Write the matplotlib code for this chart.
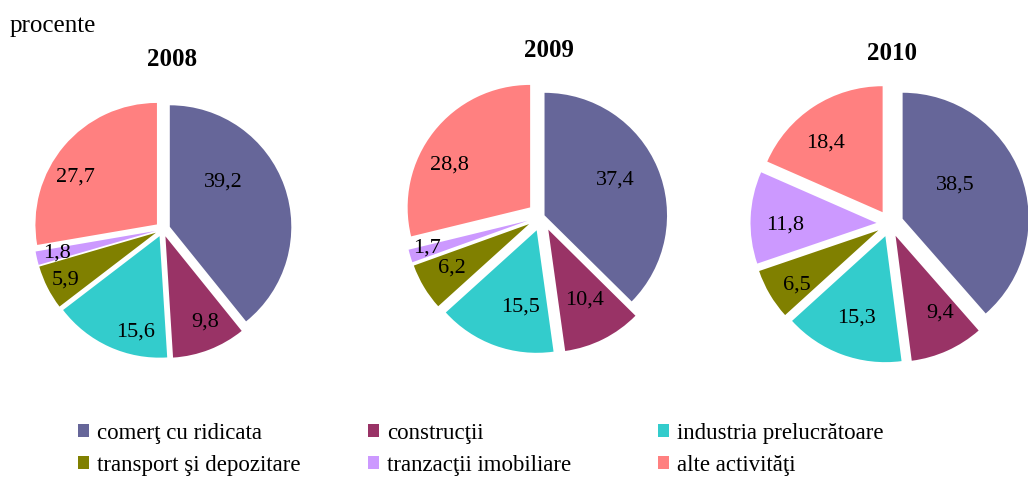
import matplotlib
matplotlib.use("Agg")
import matplotlib.pyplot as plt
from matplotlib.patches import Patch
import numpy as np

# ---------------- data ----------------
categories = ["comerţ cu ridicata", "construcţii", "industria prelucrătoare",
              "transport şi depozitare", "tranzacţii imobiliare", "alte activităţi"]
years = ["2008", "2009", "2010"]
values_2008 = [39.2, 9.8, 15.6, 5.9, 1.8, 27.7]
values_2009 = [37.4, 10.4, 15.5, 6.2, 1.7, 28.8]
values_2010 = [38.5, 9.4, 15.3, 6.5, 11.8, 18.4]
unit_label = "procente"

# ---------------- style ----------------
colors = ["#666699", "#993366", "#33CCCC", "#808000", "#CC99FF", "#FF8080"]
FONT = "Liberation Serif"
W, H = 1028, 478

# pie geometry in pixels: centre x, centre y (from top), radius
pie_geom = [(162.7, 229.3, 121.5), (541.7, 216.5, 122.5), (890.0, 223.5, 126.0)]
explodes = [[0.062] * 6,
            [0.025, 0.12, 0.12, 0.12, 0.12, 0.12],
            [0.107] * 6]
# label placement (fraction of radius, angle in degrees) per slice
label_polar = [
    [(0.63, 38.1), (0.836, -65.4), (0.873, -105.1), (0.90, -152.4), (0.895, -167.2), (0.84, 149.2)],
    [(0.669, 26.5), (0.768, -62.6), (0.757, -103.5), (0.848, -150.1), (0.974, -164.5), (0.859, 150.7)],
    [(0.60, 30.6), (0.816, -60.9), (0.798, -109.4), (0.887, -146.6), (0.833, -179.2), (0.819, 129.0)],
]
title_pos = [(171.7, 66), (549, 56.7), (892, 60)]

fig = plt.figure(figsize=(W / 100, H / 100), dpi=100)
fig.patch.set_facecolor("white")

S = 175  # half-size of each pie axes in px
for vals, year, (cx, cy, R), exp, lp, (tx, ty) in zip(
        [values_2008, values_2009, values_2010], years, pie_geom, explodes, label_polar, title_pos):
    ax = fig.add_axes([(cx - S) / W, (H - cy - S) / H, 2 * S / W, 2 * S / H])
    ax.pie(vals, colors=colors, startangle=90, counterclock=False, explode=exp,
           radius=1.0, wedgeprops=dict(linewidth=0))
    lim = S / R
    ax.set_xlim(-lim, lim)
    ax.set_ylim(-lim, lim)
    ax.set_aspect("auto")
    ax.axis("off")
    for v, (fr, ang) in zip(vals, lp):
        a = np.deg2rad(ang)
        ax.text(fr * np.cos(a), fr * np.sin(a), f"{v:.1f}".replace(".", ","),
                ha="center", va="center", fontsize=16, family=FONT, color="black")
    fig.text(tx / W, 1 - ty / H, year, ha="center", va="baseline",
             fontsize=18, fontweight="bold", family=FONT)

fig.text(10 / W, 1 - 31.7 / H, unit_label, ha="left", va="baseline", fontsize=18, family=FONT)

# legends: three columns of two entries
col_x = [78, 368, 658]
for c in range(3):
    idx = [c, c + 3]
    handles = [Patch(facecolor=colors[i], edgecolor="none") for i in idx]
    leg = fig.legend(handles, [categories[i] for i in idx], loc="upper left",
                     bbox_to_anchor=(col_x[c] / W, 1 - 423 / H), frameon=False,
                     borderpad=0, borderaxespad=0, handlelength=0.48, handleheight=0.48,
                     handletextpad=0.35, labelspacing=0.48,
                     prop=dict(family=FONT, size=16.5))

fig.savefig("out.png", dpi=100, facecolor="white")
